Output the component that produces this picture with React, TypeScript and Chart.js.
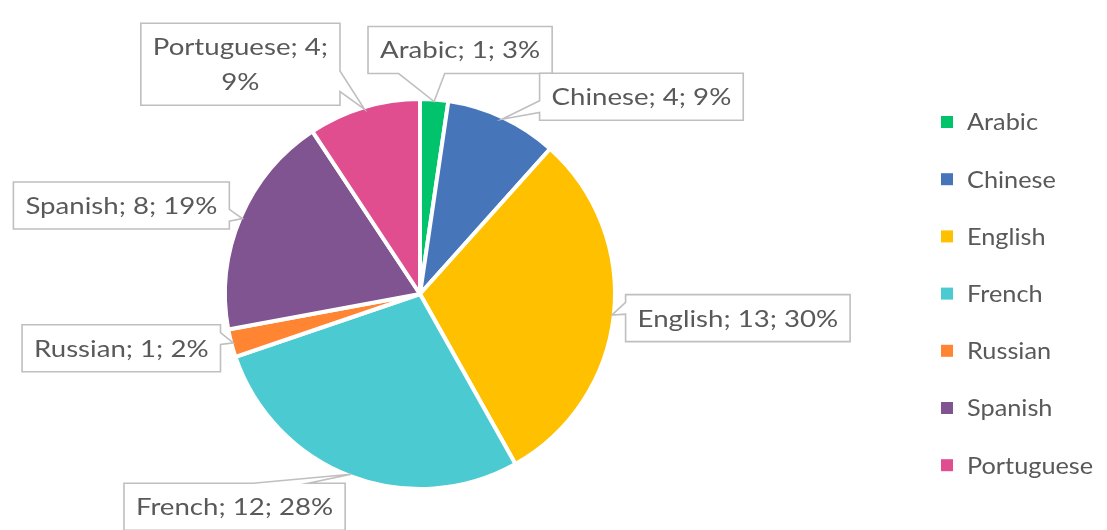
import React, { useEffect, useRef } from "react";
import { Chart, registerables } from "chart.js";

Chart.register(...registerables);

// ---- data ----
const categories = ["Arabic", "Chinese", "English", "French", "Russian", "Spanish", "Portuguese"];
const counts = [1, 4, 13, 12, 1, 8, 4];
const percentLabels = [3, 9, 30, 28, 2, 19, 9];
const sliceColors = ["#00C36B", "#4775BA", "#FFC000", "#4BCBD1", "#FF8532", "#7F5491", "#E04E8F"];
const wrapAfterCount = [false, false, false, false, false, false, true];

// ---- layout / style (not data) ----
const labelOffsets: [number, number][] = [
  [26, -51.5],
  [139.5, -22.5],
  [126, 3],
  [-116.5, 32.5],
  [-112, 5.5],
  [-121, -13],
  [-124, -45],
];
const FONT_FAMILY = "Lato, 'Open Sans', sans-serif";
const LABEL_FONT_SIZE = 23;
const LABEL_STRETCH = 1.2;
const LEGEND_FONT_SIZE = 23;
const LEGEND_STRETCH = 1.1;
const TEXT_COLOR = "#595959";
const BORDER_W = 4;

function labelLines(i: number): string[] {
  const c = categories[i];
  if (wrapAfterCount[i]) return [`${c}; ${counts[i]};`, `${percentLabels[i]}%`];
  return [`${c}; ${counts[i]}; ${percentLabels[i]}%`];
}

function calloutPath(ctx: CanvasRenderingContext2D, l: number, t: number, w: number, h: number, px: number, py: number) {
  const r = l + w, b = t + h;
  const hc = l + w / 2, vc = t + h / 2;
  const dx = px - hc, dy = py - vc;
  const dq = (dx * h) / w;
  const dz = Math.abs(dy) - Math.abs(dq);
  const x1 = l + (w * (dx > 0 ? 7 : 2)) / 12;
  const x2 = l + (w * (dx > 0 ? 10 : 5)) / 12;
  const y1 = t + (h * (dy > 0 ? 7 : 2)) / 12;
  const y2 = t + (h * (dy > 0 ? 10 : 5)) / 12;
  ctx.beginPath();
  ctx.moveTo(l, t);
  if (dz > 0 && dy < 0) {
    ctx.lineTo(x1, t); ctx.lineTo(px, py); ctx.lineTo(x2, t);
  }
  ctx.lineTo(r, t);
  if (dz <= 0 && dx > 0) {
    ctx.lineTo(r, y1); ctx.lineTo(px, py); ctx.lineTo(r, y2);
  }
  ctx.lineTo(r, b);
  if (dz > 0 && dy > 0) {
    ctx.lineTo(x2, b); ctx.lineTo(px, py); ctx.lineTo(x1, b);
  }
  ctx.lineTo(l, b);
  if (dz <= 0 && dx <= 0) {
    ctx.lineTo(l, y2); ctx.lineTo(px, py); ctx.lineTo(l, y1);
  }
  ctx.closePath();
}

function stretchedText(ctx: CanvasRenderingContext2D, s: string, x: number, y: number, sx: number) {
  ctx.save();
  ctx.translate(x, y);
  ctx.scale(sx, 1);
  ctx.fillText(s, 0, 0);
  ctx.restore();
}

const calloutPlugin = {
  id: "calloutLabels",
  afterDatasetsDraw(chart: any) {
    const ctx: CanvasRenderingContext2D = chart.ctx;
    const meta = chart.getDatasetMeta(0);
    ctx.save();
    ctx.font = `${LABEL_FONT_SIZE}px ${FONT_FAMILY}`;
    const padX = 12;
    const lineH = 34;
    const lineGap = 35;
    const padY = 6.5;
    meta.data.forEach((arc: any, i: number) => {
      const p = arc.getProps(["x", "y", "startAngle", "endAngle", "outerRadius"], true);
      const mid = (p.startAngle + p.endAngle) / 2;
      const rr = p.outerRadius - BORDER_W / 2;
      const tx = p.x + Math.cos(mid) * rr;
      const ty = p.y + Math.sin(mid) * rr;
      const lines = labelLines(i);
      const tw = Math.max(...lines.map((s) => ctx.measureText(s).width)) * LABEL_STRETCH;
      const w = tw + padX * 2;
      const h = lineH + (lines.length - 1) * lineGap + padY * 2;
      const cx = tx + labelOffsets[i][0];
      const cy = ty + labelOffsets[i][1];
      const l = cx - w / 2, t = cy - h / 2;
      calloutPath(ctx, l, t, w, h, tx, ty);
      ctx.fillStyle = "#FFFFFF";
      ctx.fill();
      ctx.strokeStyle = "#BFBFBF";
      ctx.lineWidth = 1.6;
      ctx.lineJoin = "miter";
      ctx.stroke();
      ctx.fillStyle = TEXT_COLOR;
      ctx.textAlign = "center";
      ctx.textBaseline = "middle";
      lines.forEach((s, k) => {
        stretchedText(ctx, s, cx, t + padY + lineH / 2 + lineGap * k + 1, LABEL_STRETCH);
      });
    });
    ctx.restore();
  },
};

const legendPlugin = {
  id: "sideLegend",
  afterDraw(chart: any) {
    const ctx: CanvasRenderingContext2D = chart.ctx;
    const x0 = 941, y0 = 122, step = 57.2, box = 12;
    ctx.save();
    ctx.font = `${LEGEND_FONT_SIZE}px ${FONT_FAMILY}`;
    ctx.textBaseline = "middle";
    ctx.textAlign = "left";
    categories.forEach((c, i) => {
      const y = y0 + step * i;
      ctx.fillStyle = sliceColors[i];
      ctx.fillRect(x0, y - box / 2, box, box);
      ctx.fillStyle = TEXT_COLOR;
      stretchedText(ctx, c, x0 + 26, y + 1, LEGEND_STRETCH);
    });
    ctx.restore();
  },
};

export default function App() {
  const ref = useRef<HTMLCanvasElement | null>(null);
  useEffect(() => {
    if (!ref.current) return;
    const chart = new Chart(ref.current, {
      type: "pie",
      data: {
        labels: categories,
        datasets: [
          {
            data: counts,
            backgroundColor: sliceColors,
            borderColor: "#FFFFFF",
            borderWidth: BORDER_W,
            hoverOffset: 0,
            offset: 0,
          },
        ],
      },
      options: {
        animation: false,
        responsive: false,
        devicePixelRatio: 1,
        layout: { padding: { left: 223, right: 490, top: 97, bottom: 39 } },
        plugins: {
          legend: { display: false },
          tooltip: { enabled: false },
          title: { display: false },
        },
        events: [],
      },
      plugins: [calloutPlugin, legendPlugin],
    });
    return () => chart.destroy();
  }, []);
  return (
    <div style={{ position: "absolute", left: 0, top: 0, width: 1107, height: 530, background: "#FFFFFF" }}>
      <canvas ref={ref} width={1107} height={530} style={{ display: "block" }} />
    </div>
  );
}
